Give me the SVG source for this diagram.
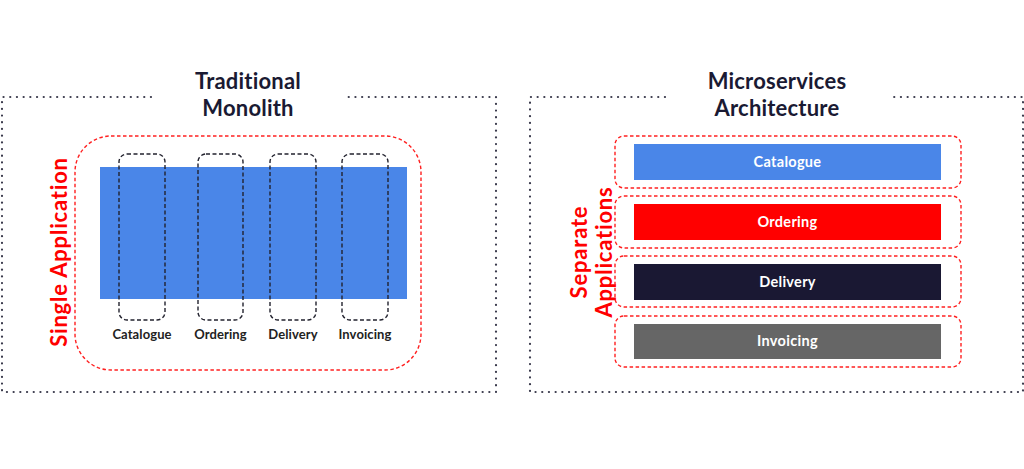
<svg xmlns="http://www.w3.org/2000/svg" width="1024" height="469" viewBox="0 0 1024 469">
<style>
.dot{fill:none;stroke:#3a3a4c;stroke-width:2.2;stroke-dasharray:0.1 6.6;stroke-linecap:round}
.red{fill:none;stroke:#ff2020;stroke-width:1.4;stroke-dasharray:3.5 2.5}
.blk{fill:none;stroke:#22222e;stroke-width:1.4;stroke-dasharray:4 2.5}
.title{font-family:"Lato","Noto Sans",sans-serif;font-weight:bold;font-size:22px;letter-spacing:0.2px;fill:#1a1a33;text-anchor:middle}
.lbl{font-family:"Lato","Noto Sans",sans-serif;font-weight:bold;font-size:13px;letter-spacing:0.1px;fill:#222;text-anchor:middle}
.wl{font-family:"Lato","Noto Sans",sans-serif;font-weight:bold;font-size:14.5px;letter-spacing:0.3px;fill:#fff;text-anchor:middle}
.side{font-family:"Lato","Noto Sans",sans-serif;font-weight:bold;font-size:22px;letter-spacing:0.8px;fill:#ff0000;text-anchor:middle}
</style>
<rect width="1024" height="469" fill="#fff"/>
<g id="monolith-panel">
<path class="dot" d="M151 97 H2 V392 H496 V97 H348"/>
<text class="title" x="248" y="89">Traditional</text>
<text class="title" x="248" y="116">Monolith</text>
</g>
<g id="single-application">
<rect class="red" x="75" y="136" width="346" height="234" rx="36"/>
<text class="side" transform="translate(67 252) rotate(-90)">Single Application</text>
</g>
<g id="monolith-block">
<rect x="100" y="167" width="307" height="132" fill="#4a86e8"/>
</g>
<g id="mono-catalogue">
<rect class="blk" x="119" y="154" width="46" height="166" rx="8"/>
<text class="lbl" x="142" y="339">Catalogue</text>
</g>
<g id="mono-ordering">
<rect class="blk" x="198" y="154" width="45" height="166" rx="8"/>
<text class="lbl" x="220.5" y="339">Ordering</text>
</g>
<g id="mono-delivery">
<rect class="blk" x="270" y="154" width="46" height="166" rx="8"/>
<text class="lbl" x="293" y="339">Delivery</text>
</g>
<g id="mono-invoicing">
<rect class="blk" x="342" y="154" width="46" height="166" rx="8"/>
<text class="lbl" x="365" y="339">Invoicing</text>
</g>
<g id="micro-panel">
<path class="dot" d="M665 97 H530 V392 H1023 V97 H891"/>
<text class="title" x="777" y="89">Microservices</text>
<text class="title" x="777" y="116">Architecture</text>
</g>
<g id="separate-applications">
<text class="side" transform="translate(587 252) rotate(-90)">Separate</text>
<text class="side" transform="translate(612 252) rotate(-90)">Applications</text>
</g>
<g id="svc-catalogue">
<rect class="red" x="615" y="136" width="346" height="52" rx="9"/>
<rect x="634" y="144" width="307" height="36" fill="#4a86e8"/>
<text class="wl" x="787.5" y="167">Catalogue</text>
</g>
<g id="svc-ordering">
<rect class="red" x="615" y="196" width="346" height="52" rx="9"/>
<rect x="634" y="204" width="307" height="36" fill="#ff0000"/>
<text class="wl" x="787.5" y="227">Ordering</text>
</g>
<g id="svc-delivery">
<rect class="red" x="615" y="256" width="346" height="51" rx="9"/>
<rect x="634" y="264" width="307" height="36" fill="#1a1833"/>
<text class="wl" x="787.5" y="287">Delivery</text>
</g>
<g id="svc-invoicing">
<rect class="red" x="615" y="316" width="346" height="51" rx="9"/>
<rect x="634" y="324" width="307" height="35" fill="#666666"/>
<text class="wl" x="787.5" y="346">Invoicing</text>
</g>
<g id="connectors"></g>
</svg>
